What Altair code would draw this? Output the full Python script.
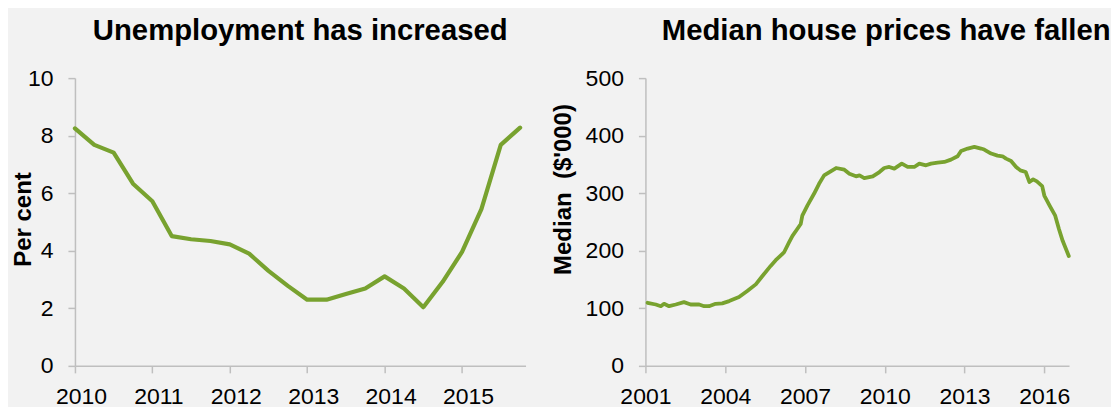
import altair as alt
import pandas as pd

# ---- Left panel: unemployment (quarterly) ----
unemp_quarters = [2010.0, 2010.25, 2010.5, 2010.75,
                  2011.0, 2011.25, 2011.5, 2011.75,
                  2012.0, 2012.25, 2012.5, 2012.75,
                  2013.0, 2013.25, 2013.5, 2013.75,
                  2014.0, 2014.25, 2014.5, 2014.75,
                  2015.0, 2015.25, 2015.5, 2015.75]
unemp_values = [8.25, 7.68, 7.41, 6.33, 5.72, 4.51, 4.40, 4.34,
                4.22, 3.90, 3.30, 2.78, 2.30, 2.30, 2.50, 2.69,
                3.11, 2.69, 2.04, 2.92, 3.96, 5.45, 7.68, 8.28]
unemp_ticks = [2010, 2011, 2012, 2013, 2014, 2015]
unemp_yticks = [0, 2, 4, 6, 8, 10]

# ---- Right panel: median house prices ($'000) ----
house_years = [2001.08, 2001.39, 2001.58, 2001.70, 2001.89, 2002.14, 2002.45, 2002.70,
               2003.02, 2003.21, 2003.39, 2003.64, 2003.89, 2004.15, 2004.52, 2004.83,
               2005.15, 2005.40, 2005.71, 2005.90, 2006.21, 2006.40, 2006.53, 2006.71,
               2006.84, 2006.90, 2007.09, 2007.34, 2007.53, 2007.72, 2007.92, 2008.17,
               2008.48, 2008.67, 2008.92, 2009.05, 2009.23, 2009.55, 2009.80, 2009.98,
               2010.17, 2010.36, 2010.64, 2010.86, 2011.11, 2011.30, 2011.55, 2011.74,
               2011.99, 2012.24, 2012.49, 2012.74, 2012.87, 2013.12, 2013.37, 2013.62,
               2013.74, 2014.00, 2014.24, 2014.43, 2014.56, 2014.75, 2014.94, 2015.10,
               2015.30, 2015.44, 2015.58, 2015.72, 2015.92, 2016.00, 2016.20, 2016.41,
               2016.55, 2016.69, 2016.92]
house_values = [109.6, 106.6, 103.7, 107.8, 103.7, 106.6, 110.7, 106.6,
                106.6, 103.7, 103.7, 107.8, 108.5, 112.5, 119.5, 130.0,
                141.6, 156.2, 173.7, 183.6, 197.0, 214.5, 226.0, 237.8,
                246.5, 261.0, 278.5, 299.0, 316.4, 331.0, 336.8, 343.8,
                340.9, 333.9, 329.3, 331.0, 326.3, 329.3, 336.8, 343.8,
                345.6, 342.7, 351.4, 345.6, 345.6, 351.4, 348.5, 351.4,
                353.1, 354.3, 358.4, 364.2, 373.5, 377.6, 380.5, 377.6,
                375.9, 368.9, 365.4, 364.2, 360.1, 356.1, 345.6, 339.7,
                336.8, 319.4, 324.0, 320.5, 312.4, 296.0, 278.5, 261.0,
                237.8, 217.3, 191.0]
house_ticks = [2001, 2004, 2007, 2010, 2013, 2016]
house_yticks = [0, 100, 200, 300, 400, 500]

FONT = "Liberation Sans"
GREEN = "#78a22f"
AXIS_GREY = "#bfbfbf"

df_u = pd.DataFrame({"year": unemp_quarters, "value": unemp_values})
df_h = pd.DataFrame({"year": house_years, "value": house_values})

title_common = dict(fontSize=29.3, font=FONT, fontWeight="bold", color="#000000",
                    anchor="middle", baseline="alphabetic", offset=-2)

left = alt.Chart(df_u).mark_line(
    color=GREEN, strokeWidth=4.2, strokeCap="round", strokeJoin="round"
).encode(
    x=alt.X("year:Q",
            scale=alt.Scale(domain=[2010, 2015.82], nice=False, zero=False),
            axis=alt.Axis(values=unemp_ticks, format="d", title=None,
                          labelFlush=False, labelOffset=6)),
    y=alt.Y("value:Q",
            scale=alt.Scale(domain=[0, 10], nice=False),
            axis=alt.Axis(values=unemp_yticks, title="Per cent",
                          titleX=-44, titleY=141, titleAlign="center",
                          titleBaseline="alphabetic", titleAngle=270)),
).properties(
    width=451, height=288,
    title=alt.TitleParams("Unemployment has increased", **title_common),
)

right = alt.Chart(df_h).mark_line(
    color=GREEN, strokeWidth=3.8, strokeCap="round", strokeJoin="round"
).encode(
    x=alt.X("year:Q",
            scale=alt.Scale(domain=[2001, 2016.93], nice=False, zero=False),
            axis=alt.Axis(values=house_ticks, format="d", title=None,
                          labelFlush=False)),
    y=alt.Y("value:Q",
            scale=alt.Scale(domain=[0, 500], nice=False),
            axis=alt.Axis(values=house_yticks, title="Median\u00a0\u00a0($'000)",
                          titleX=-75, titleY=111, titleAlign="center",
                          titleBaseline="alphabetic", titleAngle=270)),
).properties(
    width=424, height=288,
    title=alt.TitleParams("Median house prices have fallen", dx=29, **title_common),
)

chart = alt.hconcat(left, right, spacing=26).properties(
    padding={"left": 4, "top": 8, "right": 0, "bottom": 0}
).configure(
    background="#f2f2f2",
).configure_view(
    stroke=None,
).configure_axis(
    grid=False,
    domainColor=AXIS_GREY,
    domainWidth=1.5,
    tickColor=AXIS_GREY,
    tickWidth=1.5,
    tickSize=7,
    labelFont=FONT,
    labelFontSize=23,
    labelColor="#000000",
    labelPadding=15,
    titleFont=FONT,
    titleFontSize=24,
    titleFontWeight="bold",
    titleColor="#000000",
).configure_axisX(
    labelPadding=13,
)

chart.save("out.html", embed_options={"renderer": "svg", "actions": False})
